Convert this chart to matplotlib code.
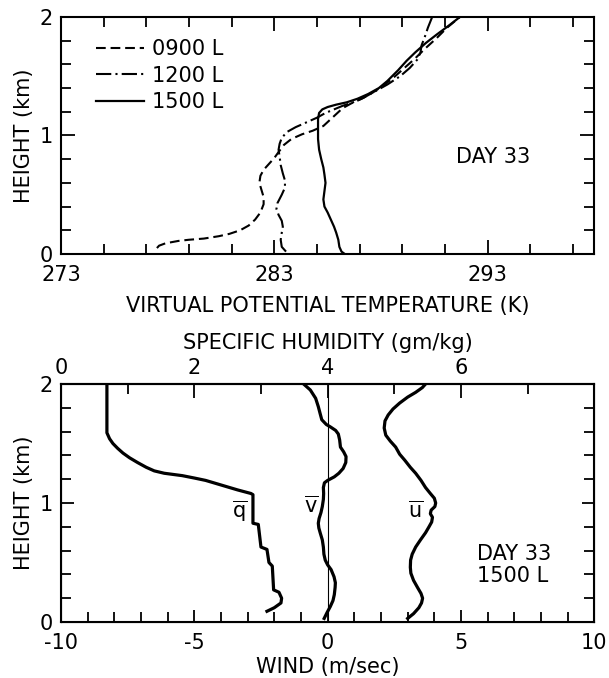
import matplotlib
matplotlib.use('Agg')
import matplotlib.pyplot as plt
import numpy as np

plt.rcParams['font.family'] = ['DejaVu Sans']
plt.rcParams['axes.unicode_minus'] = False
plt.rcParams['lines.scale_dashes'] = False

# ---- top panel: virtual potential temperature profiles (DAY 33)
h_0900 = [0.05, 0.07, 0.09, 0.11, 0.12, 0.13, 0.15, 0.17, 0.20, 0.24, 0.29, 0.35, 0.42, 0.48,
          0.54, 0.60, 0.66, 0.71, 0.76, 0.81, 0.86, 0.92, 0.97, 1.01, 1.04, 1.08, 1.13, 1.18,
          1.23, 1.27, 1.31, 1.36, 1.42, 1.49, 1.57, 1.65, 1.73, 1.82, 1.91, 2.0]
t_0900 = [277.5, 277.6, 277.9, 278.5, 279.0, 279.7, 280.4, 280.9, 281.4, 281.8, 282.1, 282.35, 282.5, 282.5,
          282.4, 282.3, 282.35, 282.5, 282.75, 283.0, 283.2, 283.45, 283.8, 284.3, 284.8, 285.3, 285.6, 285.9,
          286.2, 286.6, 287.1, 287.6, 288.1, 288.6, 289.1, 289.6, 290.05, 290.6, 291.1, 291.7]

h_1200 = [0.02, 0.06, 0.12, 0.18, 0.23, 0.28, 0.33, 0.38, 0.43, 0.50, 0.56, 0.62, 0.68, 0.75,
          0.82, 0.88, 0.93, 0.98, 1.03, 1.07, 1.11, 1.15, 1.19, 1.22, 1.25, 1.28, 1.32, 1.37,
          1.43, 1.50, 1.57, 1.64, 1.70, 1.76, 1.83, 1.91, 2.0]
t_1200 = [283.55, 283.35, 283.3, 283.35, 283.4, 283.35, 283.2, 283.1, 283.15, 283.35, 283.5, 283.5, 283.4, 283.3,
          283.25, 283.2, 283.25, 283.35, 283.6, 284.0, 284.5, 285.0, 285.4, 285.8, 286.2, 286.7, 287.2, 287.7,
          288.3, 288.9, 289.35, 289.7, 289.85, 289.9, 290.05, 290.2, 290.4]

h_1500 = [0.0, 0.02, 0.06, 0.12, 0.18, 0.23, 0.29, 0.35, 0.40, 0.46, 0.53, 0.60, 0.67, 0.73,
          0.80, 0.88, 0.97, 1.07, 1.14, 1.19, 1.22, 1.24, 1.26, 1.28, 1.31, 1.35, 1.40, 1.46,
          1.55, 1.63, 1.70, 1.78, 1.85, 1.93, 2.0]
t_1500 = [286.3, 286.15, 286.05, 286.0, 285.9, 285.8, 285.65, 285.5, 285.35, 285.3, 285.35, 285.4, 285.35, 285.3,
          285.2, 285.1, 285.05, 285.05, 285.05, 285.1, 285.25, 285.5, 285.9, 286.4, 286.9, 287.4, 287.9, 288.3,
          288.8, 289.2, 289.6, 290.1, 290.6, 291.2, 291.7]

# ---- bottom panel: 1500 L means
h_q = [2.0, 1.59, 1.54, 1.50, 1.46, 1.42, 1.38, 1.34, 1.30, 1.27, 1.25, 1.23, 1.21, 1.19, 1.16,
       1.14, 1.11, 1.08, 1.07, 0.83, 0.82, 0.63, 0.61, 0.50, 0.47, 0.27, 0.25, 0.20, 0.16, 0.12, 0.09]
q_mean = [0.69, 0.69, 0.73, 0.78, 0.85, 0.93, 1.03, 1.15, 1.28, 1.40, 1.55, 1.82, 2.0, 2.17, 2.35,
          2.47, 2.65, 2.85, 2.88, 2.88, 2.96, 3.0, 3.09, 3.12, 3.17, 3.19, 3.27, 3.31, 3.30, 3.2, 3.09]

h_v = [2.0, 1.95, 1.88, 1.81, 1.75, 1.70, 1.66, 1.64, 1.61, 1.58, 1.53, 1.47, 1.43, 1.39, 1.34,
       1.29, 1.25, 1.22, 1.19, 1.17, 1.13, 1.08, 1.03, 0.97, 0.92, 0.87, 0.83, 0.79, 0.75, 0.69,
       0.63, 0.57, 0.52, 0.48, 0.44, 0.38, 0.33, 0.29, 0.23, 0.18, 0.13, 0.08, 0.03]
v_mean = [-0.9, -0.65, -0.45, -0.35, -0.28, -0.22, -0.05, 0.1, 0.3, 0.4, 0.45, 0.48, 0.6, 0.69, 0.68,
          0.58, 0.42, 0.25, 0.0, -0.12, -0.16, -0.15, -0.16, -0.2, -0.25, -0.32, -0.35, -0.33, -0.28, -0.2,
          -0.16, -0.14, -0.09, 0.0, 0.13, 0.24, 0.29, 0.28, 0.25, 0.2, 0.1, -0.02, -0.13]

h_u = [2.0, 1.97, 1.93, 1.89, 1.84, 1.79, 1.74, 1.69, 1.63, 1.57, 1.52, 1.47, 1.41, 1.36, 1.30,
       1.25, 1.19, 1.13, 1.08, 1.04, 1.00, 0.97, 0.94, 0.91, 0.88, 0.84, 0.80, 0.75, 0.69, 0.63,
       0.57, 0.52, 0.46, 0.41, 0.35, 0.29, 0.24, 0.20, 0.16, 0.12, 0.07, 0.03]
u_mean = [3.67, 3.55, 3.3, 3.0, 2.7, 2.45, 2.27, 2.15, 2.12, 2.18, 2.35, 2.55, 2.7, 2.89, 3.1,
          3.30, 3.5, 3.67, 3.85, 4.0, 4.05, 4.02, 3.88, 3.85, 3.93, 3.9, 3.8, 3.67, 3.48, 3.30,
          3.17, 3.11, 3.1, 3.12, 3.22, 3.37, 3.5, 3.56, 3.52, 3.42, 3.22, 3.0]

FS = 15
fig = plt.figure(figsize=(6.09, 6.78), dpi=100)
ax1 = fig.add_axes([0.100, 0.6254, 0.876, 0.3496])
ax2 = fig.add_axes([0.100, 0.0826, 0.876, 0.3510])

for ax in (ax1, ax2):
    for s in ax.spines.values():
        s.set_linewidth(1.5)

# top panel
l1, = ax1.plot(t_0900, h_0900, color='black', lw=1.5, label='0900 L')
l1.set_dashes([7, 3.5])
l2, = ax1.plot(t_1200, h_1200, color='black', lw=1.5, label='1200 L')
l2.set_dashes([11, 3, 1.5, 3])
ax1.plot(t_1500, h_1500, color='black', lw=1.6, label='1500 L', solid_joinstyle='round')
ax1.set_xlim(273, 298)
ax1.set_ylim(0, 2)
ax1.set_xticks([273, 283, 293])
ax1.set_xticks(np.arange(275, 298, 2), minor=True)
ax1.set_yticks([0, 1, 2])
ax1.set_yticks(np.arange(0.2, 2.0, 0.2), minor=True)
ax1.tick_params(which='both', direction='in', top=True, right=True, width=1.3, labelsize=FS)
ax1.tick_params(which='major', length=10)
ax1.tick_params(which='minor', length=7)
ax1.tick_params(axis='x', pad=8)
ax1.tick_params(axis='y', pad=6)
ax1.set_xlabel('VIRTUAL POTENTIAL TEMPERATURE (K)', fontsize=FS, labelpad=8)
ax1.set_ylabel('HEIGHT (km)', fontsize=FS, labelpad=4)
ax1.text(0.81, 0.41, 'DAY 33', transform=ax1.transAxes, fontsize=FS, ha='center', va='center')
ax1.legend(loc='upper left', bbox_to_anchor=(0.066, 0.905), frameon=False, fontsize=FS,
           handlelength=2.3, handletextpad=0.4, labelspacing=0.3, borderpad=0, borderaxespad=0)

# bottom panel: wind on bottom axis, humidity on top axis
ax2.axvline(0, color='black', lw=0.8)
ax2.plot(v_mean, h_v, color='black', lw=2.3, solid_joinstyle='round')
ax2.plot(u_mean, h_u, color='black', lw=2.3, solid_joinstyle='round')
ax2.set_xlim(-10, 10)
ax2.set_ylim(0, 2)
ax2.set_xticks([-10, -5, 0, 5, 10])
ax2.set_xticks(np.arange(-9, 10, 1), minor=True)
ax2.set_yticks([0, 1, 2])
ax2.set_yticks(np.arange(0.2, 2.0, 0.2), minor=True)
ax2.tick_params(which='both', direction='in', right=True, width=1.3, labelsize=FS)
ax2.tick_params(which='major', length=9)
ax2.tick_params(which='minor', length=7)
ax2.tick_params(axis='x', pad=8)
ax2.tick_params(axis='y', pad=6)
ax2.set_xlabel('WIND (m/sec)', fontsize=FS, labelpad=3)
ax2.set_ylabel('HEIGHT (km)', fontsize=FS, labelpad=4)

ax3 = ax2.twiny()
ax3.plot(q_mean, h_q, color='black', lw=2.3, solid_joinstyle='round')
ax3.set_xlim(0, 8)
ax3.set_xticks([0, 2, 4, 6])
ax3.set_xticks([1, 3, 5, 7], minor=True)
ax3.tick_params(which='both', direction='in', width=1.3, labelsize=FS, pad=4)
ax3.tick_params(which='major', length=10)
ax3.tick_params(which='minor', length=7)
ax3.set_xlabel('SPECIFIC HUMIDITY (gm/kg)', fontsize=FS, labelpad=7)
ax3.spines['top'].set_linewidth(1.5)

ax2.text(-3.3, 0.93, r'$\overline{\mathrm{q}}$', fontsize=FS, ha='center', va='center')
ax2.text(-0.6, 0.97, r'$\overline{\mathrm{v}}$', fontsize=FS, ha='center', va='center')
ax2.text(3.3, 0.93, r'$\overline{\mathrm{u}}$', fontsize=FS, ha='center', va='center')
ax2.text(0.78, 0.24, 'DAY 33\n1500 L', transform=ax2.transAxes, fontsize=FS,
         ha='left', va='center', linespacing=1.15)

fig.savefig('out.png', dpi=100)
